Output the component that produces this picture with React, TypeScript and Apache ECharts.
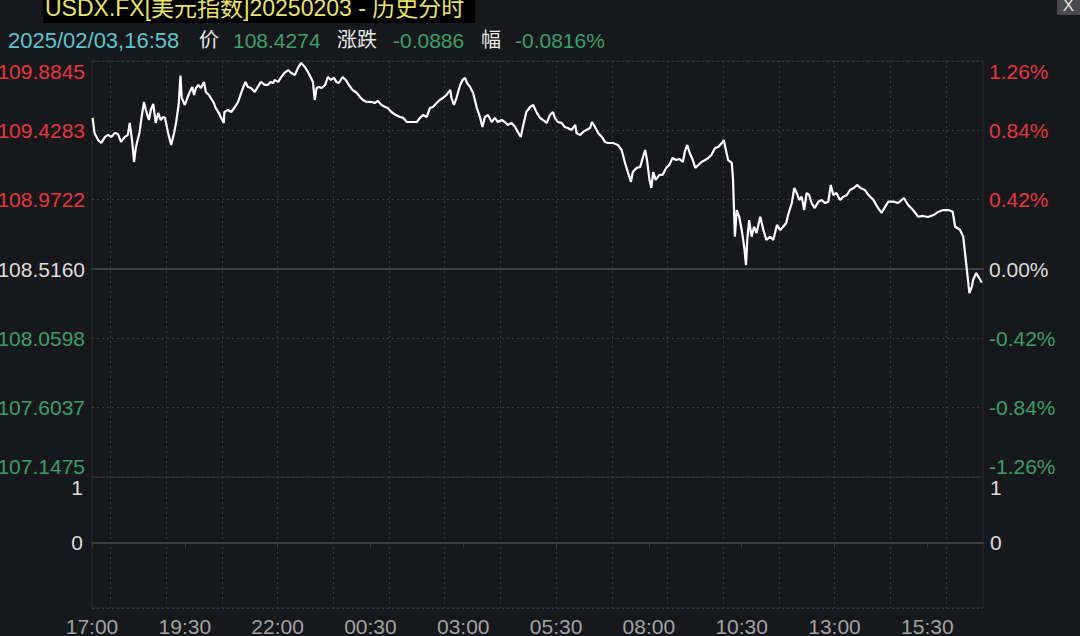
import React, { useEffect, useRef } from "react";
import * as echarts from "echarts";

// ---------- data ----------
const headerTitle = "USDX.FX[美元指数]20250203 - 历史分时";
const lastTime = "2025/02/03,16:58";
const lastPrice = "108.4274";
const lastChange = "-0.0886";
const lastChangePct = "-0.0816%";
const baseClose = 108.516;

const timeLabels = ["17:00", "19:30", "22:00", "00:30", "03:00", "05:30", "08:00", "10:30", "13:00", "15:30"];
const priceTickLabels = ["107.1475", "107.6037", "108.0598", "108.5160", "108.9722", "109.4283", "109.8845"];
const pctTickLabels = ["-1.26%", "-0.84%", "-0.42%", "0.00%", "0.42%", "0.84%", "1.26%"];

// minutes since 17:00
const minutes = [
  1, 4, 10, 15, 21, 26, 31, 37, 42, 47,
  53, 58, 61, 65, 68, 71, 77, 79, 84, 87,
  92, 95, 99, 103, 107, 111, 115, 118, 123, 128,
  133, 136, 140, 143, 145, 150, 154, 158, 162, 165,
  168, 172, 176, 181, 184, 189, 192, 197, 200, 205,
  208, 213, 214, 220, 225, 231, 236, 240, 244, 248,
  252, 257, 263, 268, 273, 279, 284, 289, 293, 295,
  301, 305, 311, 317, 322, 328, 333, 338, 344, 349,
  354, 357, 360, 363, 367, 371, 377, 381, 386, 391,
  395, 399, 405, 410, 415, 421, 428, 433, 438, 444,
  452, 457, 462, 468, 474, 478, 484, 491, 498, 503,
  509, 514, 519, 525, 530, 535, 541, 546, 551, 557,
  562, 567, 573, 579, 581, 585, 589, 595, 599, 603,
  606, 611, 616, 622, 627, 631, 635, 640, 646, 651,
  656, 662, 667, 672, 678, 684, 688, 693, 697, 702,
  708, 713, 719, 724, 729, 735, 740, 745, 748, 753,
  759, 764, 769, 775, 781, 783, 789, 794, 799, 805,
  808, 813, 818, 824, 829, 834, 842, 850, 856, 861,
  866, 871, 874, 880, 886, 890, 894, 897, 901, 904,
  907, 911, 917, 922, 928, 933, 938, 944, 949, 955,
  958, 962, 966, 971, 975, 980, 985, 991, 996, 1001,
  1007, 1012, 1018, 1021, 1028, 1034, 1036, 1039, 1042, 1046,
  1050, 1054, 1057, 1059, 1062, 1066, 1070, 1074, 1080, 1085,
  1090, 1096, 1101, 1107, 1112, 1117, 1122, 1125, 1131, 1135,
  1139, 1143, 1147, 1151, 1155, 1159, 1163, 1168, 1174, 1179,
  1185, 1190, 1194, 1198, 1203, 1209, 1214, 1220, 1225, 1231,
  1237, 1242, 1249, 1255, 1263, 1269, 1276, 1282, 1287, 1295,
  1303, 1312, 1319, 1327, 1335, 1343, 1351, 1360, 1368, 1376,
  1384, 1391, 1395, 1403, 1408, 1414, 1418, 1422, 1424, 1429,
  1438,
];

const prices = [
  109.51, 109.411, 109.365, 109.345, 109.385, 109.398, 109.385, 109.411, 109.404, 109.352,
  109.385, 109.398, 109.477, 109.352, 109.22, 109.319, 109.418, 109.483, 109.615, 109.562,
  109.496, 109.562, 109.602, 109.477, 109.543, 109.496, 109.516, 109.51, 109.411, 109.332,
  109.418, 109.483, 109.595, 109.788, 109.641, 109.595, 109.641, 109.681, 109.714, 109.661,
  109.707, 109.727, 109.707, 109.747, 109.681, 109.661, 109.641, 109.608, 109.575, 109.543,
  109.516, 109.477, 109.549, 109.562, 109.549, 109.582, 109.615, 109.661, 109.707, 109.747,
  109.714, 109.707, 109.681, 109.714, 109.747, 109.727, 109.727, 109.747, 109.74, 109.76,
  109.747, 109.773, 109.806, 109.825, 109.806, 109.793, 109.839, 109.872, 109.845, 109.812,
  109.773, 109.747, 109.628, 109.707, 109.714, 109.707, 109.727, 109.779, 109.76, 109.773,
  109.747, 109.74, 109.779, 109.76, 109.727, 109.694, 109.674, 109.648, 109.628, 109.615,
  109.615, 109.608, 109.621, 109.595, 109.582, 109.575, 109.549, 109.529, 109.516, 109.51,
  109.483, 109.483, 109.483, 109.483, 109.51, 109.529, 109.516, 109.575, 109.582, 109.608,
  109.628, 109.641, 109.661, 109.694, 109.641, 109.595, 109.641, 109.727, 109.76, 109.773,
  109.74, 109.714, 109.674, 109.575, 109.516, 109.45, 109.516, 109.529, 109.483, 109.51,
  109.483, 109.496, 109.483, 109.464, 109.477, 109.45, 109.418, 109.385, 109.464, 109.549,
  109.582, 109.595, 109.543, 109.51, 109.496, 109.477, 109.529, 109.549, 109.51, 109.483,
  109.477, 109.45, 109.444, 109.431, 109.464, 109.411, 109.398, 109.418, 109.431, 109.444,
  109.483, 109.45, 109.411, 109.385, 109.352, 109.345, 109.345, 109.332, 109.299, 109.22,
  109.154, 109.089, 109.154, 109.181, 109.187, 109.246, 109.299, 109.233, 109.102, 109.049,
  109.154, 109.102, 109.135, 109.135, 109.181, 109.2, 109.246, 109.233, 109.24, 109.22,
  109.286, 109.332, 109.279, 109.233, 109.181, 109.2, 109.22, 109.233, 109.246, 109.266,
  109.312, 109.319, 109.345, 109.365, 109.233, 109.214, 109.102, 108.729, 108.904, 108.86,
  108.773, 108.663, 108.542, 108.707, 108.838, 108.729, 108.794, 108.753, 108.86, 108.773,
  108.707, 108.729, 108.707, 108.806, 108.773, 108.794, 108.819, 108.871, 108.95, 109.049,
  109.016, 108.97, 108.992, 108.904, 109.016, 109.003, 108.95, 108.917, 108.959, 108.97,
  108.95, 108.959, 109.069, 109.003, 109.016, 108.97, 108.992, 109.003, 109.036, 109.049,
  109.069, 109.049, 109.036, 109.003, 108.97, 108.926, 108.885, 108.926, 108.959, 108.959,
  108.95, 108.983, 108.937, 108.904, 108.86, 108.865, 108.858, 108.871, 108.893, 108.904,
  108.904, 108.893, 108.794, 108.773, 108.729, 108.509, 108.358, 108.4, 108.444, 108.49,
  108.4274,
];

// ---------- style ----------
const FONT = "'Liberation Sans', 'Noto Sans CJK SC', sans-serif";
const BG = "#17181c";
const RED = "#e5363d";
const GREEN = "#3b9e6b";
const WHITE = "#dcdcdc";
const GRID_DOT = "#383940";
const AXIS_LINE = "#3c3d42";
const BORDER = "#2a2b30";

const categories = Array.from({ length: 1441 }, (_, i) => String(i));
const isLabelTick = (i: number) => i % 150 === 0 && i < 1440;
const isGridTick = (i: number) => i >= 30 && (i - 30) % 90 === 0;

const seriesData = minutes.map((m, i) => [m, prices[i]]);

function pctIndex(v: number) {
  return Math.round((v + 1.26) / 0.42);
}
function toneKey(i: number) {
  return i > 3 ? "up" : i < 3 ? "dn" : "eq";
}
const richTones = {
  up: { color: RED, fontSize: 21, fontFamily: FONT },
  dn: { color: GREEN, fontSize: 21, fontFamily: FONT },
  eq: { color: WHITE, fontSize: 21, fontFamily: FONT },
};

function buildOption(): any {
  const xCommon = {
    type: "category",
    data: categories,
    boundaryGap: false,
    splitLine: {
      show: true,
      interval: (i: number) => isGridTick(i),
      lineStyle: { color: GRID_DOT, type: [2, 3], width: 1 },
    },
  };
  return {
    animation: false,
    backgroundColor: BG,
    textStyle: { fontFamily: FONT },
    grid: [
      { left: 92, right: 97, top: 61, height: 416, show: true, borderColor: BORDER, borderWidth: 1, outerBoundsMode: "none", containLabel: false },
      { left: 92, right: 97, top: 477, height: 131, show: true, borderColor: BORDER, borderWidth: 1, outerBoundsMode: "none", containLabel: false },
    ],
    xAxis: [
      {
        ...xCommon,
        gridIndex: 0,
        axisLine: { show: true, lineStyle: { color: AXIS_LINE, width: 2 } },
        axisTick: { show: false },
        axisLabel: { show: false },
      },
      {
        ...xCommon,
        gridIndex: 1,
        axisLine: { show: true, lineStyle: { color: AXIS_LINE, width: 2 } },
        axisTick: { show: true, interval: (i: number) => isLabelTick(i), length: 5, lineStyle: { color: AXIS_LINE, width: 1 } },
        axisLabel: {
          show: true,
          interval: (i: number) => isLabelTick(i),
          formatter: (v: string) => timeLabels[Number(v) / 150] ?? "",
          color: "#a2a2a4",
          fontSize: 21,
          fontFamily: FONT,
          margin: 8,
        },
      },
    ],
    yAxis: [
      {
        type: "value",
        gridIndex: 0,
        position: "left",
        min: -1.26,
        max: 1.26,
        interval: 0.42,
        axisLine: { show: false },
        axisTick: { show: false },
        axisLabel: {
          margin: 7,
          fontSize: 21,
          fontFamily: FONT,
          verticalAlignMinLabel: "bottom",
          verticalAlignMaxLabel: "top",
          formatter: (v: number) => {
            const i = pctIndex(v);
            return `{${toneKey(i)}|${priceTickLabels[i]}}`;
          },
          rich: richTones,
        },
        splitLine: { show: true, lineStyle: { color: GRID_DOT, type: [2, 3], width: 1 } },
      },
      {
        type: "value",
        gridIndex: 0,
        position: "right",
        min: -1.26,
        max: 1.26,
        interval: 0.42,
        axisLine: { show: false },
        axisTick: { show: false },
        axisLabel: {
          margin: 6,
          fontSize: 21,
          fontFamily: FONT,
          verticalAlignMinLabel: "bottom",
          verticalAlignMaxLabel: "top",
          formatter: (v: number) => {
            const i = pctIndex(v);
            return `{${toneKey(i)}|${pctTickLabels[i]}}`;
          },
          rich: richTones,
        },
        splitLine: { show: false },
      },
      {
        type: "value",
        gridIndex: 0,
        show: false,
        min: 107.1475,
        max: 109.8845,
        splitLine: { show: false },
      },
      {
        type: "value",
        gridIndex: 1,
        position: "left",
        min: -1,
        max: 1,
        interval: 1,
        axisLine: { show: false },
        axisTick: { show: false },
        axisLabel: {
          margin: 9,
          color: WHITE,
          fontSize: 21,
          fontFamily: FONT,
          verticalAlignMaxLabel: "top",
          formatter: (v: number) => (v < 0 ? "" : String(v)),
        },
        splitLine: { show: true, lineStyle: { color: GRID_DOT, type: [2, 3], width: 1 } },
      },
      {
        type: "value",
        gridIndex: 1,
        position: "right",
        min: -1,
        max: 1,
        interval: 1,
        axisLine: { show: false },
        axisTick: { show: false },
        axisLabel: {
          margin: 7,
          color: WHITE,
          fontSize: 21,
          fontFamily: FONT,
          verticalAlignMaxLabel: "top",
          formatter: (v: number) => (v < 0 ? "" : String(v)),
        },
        splitLine: { show: false },
      },
    ],
    series: [
      {
        type: "line",
        xAxisIndex: 0,
        yAxisIndex: 2,
        data: seriesData,
        showSymbol: false,
        symbol: "none",
        silent: true,
        z: 3,
        lineStyle: { color: "#ffffff", width: 2.2 },
        emphasis: { disabled: true },
        markLine: {
          silent: true,
          z: 1,
          symbol: ["none", "none"],
          label: { show: false },
          lineStyle: { color: AXIS_LINE, width: 2, type: "solid" },
          data: [{ yAxis: baseClose }],
        },
      },
    ],
    graphic: [
      { type: "rect", shape: { x: 43, y: 0, width: 432, height: 23 }, style: { fill: "#000000" } },
      {
        type: "text",
        x: 45,
        y: 7.5,
        style: { text: headerTitle, fill: "#e9e46a", fontSize: 23, fontFamily: FONT, verticalAlign: "middle", align: "left" },
      },
      { type: "text", x: 8, y: 40, style: { text: lastTime, fill: "#5ec4cc", fontSize: 22, fontFamily: FONT, verticalAlign: "middle" } },
      { type: "text", x: 199, y: 40, style: { text: "价", fill: "#e8e8e8", fontSize: 20, fontFamily: FONT, verticalAlign: "middle" } },
      { type: "text", x: 233, y: 40, style: { text: lastPrice, fill: GREEN, fontSize: 21, fontFamily: FONT, verticalAlign: "middle" } },
      { type: "text", x: 337, y: 40, style: { text: "涨跌", fill: "#e8e8e8", fontSize: 20, fontFamily: FONT, verticalAlign: "middle" } },
      { type: "text", x: 393, y: 40, style: { text: lastChange, fill: GREEN, fontSize: 21, fontFamily: FONT, verticalAlign: "middle" } },
      { type: "text", x: 481, y: 40, style: { text: "幅", fill: "#e8e8e8", fontSize: 20, fontFamily: FONT, verticalAlign: "middle" } },
      { type: "text", x: 515, y: 40, style: { text: lastChangePct, fill: GREEN, fontSize: 21, fontFamily: FONT, verticalAlign: "middle" } },
      { type: "rect", shape: { x: 1057, y: 0, width: 23, height: 15 }, style: { fill: "#4a4a4e" } },
      {
        type: "text",
        x: 1068.5,
        y: 5,
        style: { text: "X", fill: "#e0e0e0", fontSize: 17, fontFamily: FONT, align: "center", verticalAlign: "middle" },
      },
    ],
  };
}

export default function App() {
  const ref = useRef<HTMLDivElement>(null);
  useEffect(() => {
    document.body.style.margin = "0";
    document.body.style.background = BG;
    const chart = echarts.init(ref.current as HTMLDivElement, null, { renderer: "svg" });
    chart.setOption(buildOption());
    return () => {
      chart.dispose();
    };
  }, []);
  return <div ref={ref} style={{ width: 1080, height: 636, background: BG }} />;
}
